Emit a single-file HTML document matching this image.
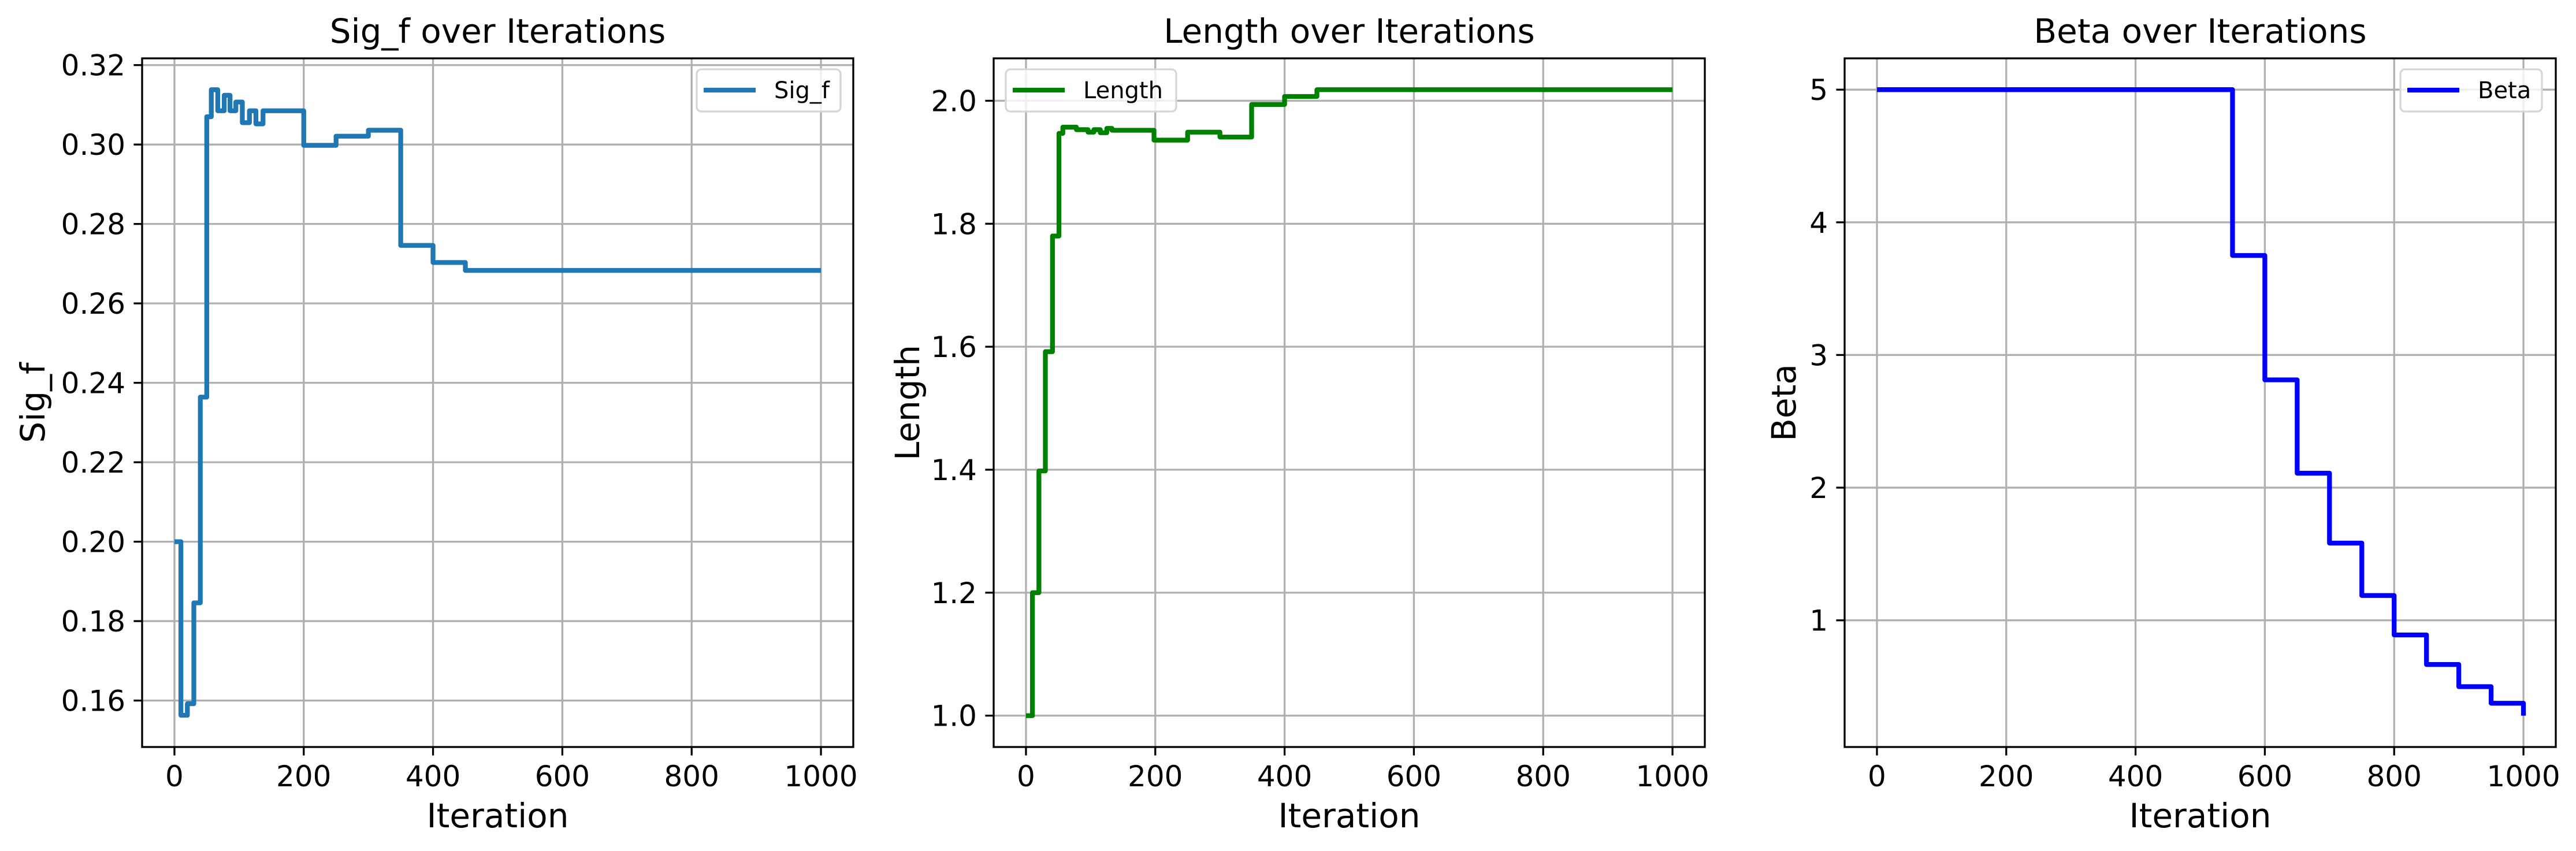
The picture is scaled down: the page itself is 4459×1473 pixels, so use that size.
<!DOCTYPE html>
<html><head><meta charset="utf-8">
<style>
html,body{margin:0;padding:0;background:#fff;}
svg{display:block;font-family:"DejaVu Sans","Liberation Sans",sans-serif;}
</style></head>
<body>
<svg id="fig" width="4459" height="1473" viewBox="0 0 4459 1473" xmlns="http://www.w3.org/2000/svg"></svg>
<script>
// ---- data ----
const sigIters = [0,10,20,30,40,50,57,67,77,86,95,105,116,126,137,200,250,300,350,400,450,1000];
const sigVals  = [0.2000,0.1563,0.1592,0.1846,0.2364,0.3070,0.3138,0.3085,0.3124,0.3085,0.3107,0.3055,0.3085,0.3052,0.3085,0.2998,0.3021,0.3036,0.2746,0.2703,0.2683,0.2683];
const lenIters = [0,10,20,30,41,51,57,78,96,105,115,125,133,198,250,300,349,400,450,1000];
const lenVals  = [1.000,1.200,1.398,1.592,1.780,1.947,1.957,1.953,1.949,1.953,1.948,1.955,1.952,1.936,1.949,1.941,1.994,2.007,2.018,2.018];
const betaIters = [0,550,600,650,700,750,800,850,900,950,1000];
const betaVals  = [5.0,3.75,2.8125,2.109,1.582,1.187,0.890,0.667,0.500,0.375,0.281];
const xTicks = [0,200,400,600,800,1000];
const sigTicks = [0.16,0.18,0.20,0.22,0.24,0.26,0.28,0.30,0.32];
const lenTicks = [1.0,1.2,1.4,1.6,1.8,2.0];
const betaTicks = [1,2,3,4,5];

const NS="http://www.w3.org/2000/svg";
const fig=document.getElementById('fig');
function mk(tag,attrs,parent){const e=document.createElementNS(NS,tag);for(const k in attrs)e.setAttribute(k,attrs[k]);(parent||fig).appendChild(e);return e;}

function panel(cfg){
  const L=cfg.left,R=cfg.left+1231,T=101,B=1293;
  const g=mk('g',{});
  
  
  const xs=v=>L+(v-(-50))/(1100)*(R-L);
  const ys=v=>B-(v-cfg.ymin)/(cfg.ymax-cfg.ymin)*(B-T);
  xTicks.forEach(t=>{const l=mk('line',{x1:xs(t),x2:xs(t),y1:T,y2:B,stroke:'#b0b0b0','stroke-width':3.3},g);
    });
  cfg.yticks.forEach(t=>{const l=mk('line',{x1:L,x2:R,y1:ys(t),y2:ys(t),stroke:'#b0b0b0','stroke-width':3.3},g);
    });
  let d='';
  for(let i=0;i<cfg.xs.length;i++){
    const x=xs(cfg.xs[i]),y=ys(cfg.ys[i]);
    if(i===0)d+='M'+x+','+y;
    else d+=' L'+x+','+ys(cfg.ys[i-1])+' L'+x+','+y;
  }
  const p=mk('path',{d:d,fill:'none',stroke:cfg.color,'stroke-width':8.3,'stroke-linejoin':'round'},g);
  
  
  const sp=mk('rect',{x:L,y:T,width:R-L,height:B-T,fill:'none',stroke:'#000','stroke-width':3.3},g);
  
  xTicks.forEach(t=>{
    mk('line',{x1:xs(t),x2:xs(t),y1:B,y2:B+14.6,stroke:'#000','stroke-width':3.3},g);
    const tx=mk('text',{x:xs(t),y:B+68,'font-size':50,'text-anchor':'middle',fill:'#000'},g);
    tx.textContent=t;
    
  });
  cfg.yticks.forEach(t=>{
    mk('line',{x1:L-14.6,x2:L,y1:ys(t),y2:ys(t),stroke:'#000','stroke-width':3.3},g);
    const tx=mk('text',{x:L-29,y:ys(t)+18,'font-size':50,'text-anchor':'end',fill:'#000'},g);
    tx.textContent=t.toFixed(cfg.dec);
    
  });
  const xl=mk('text',{x:(L+R)/2,y:1432,'font-size':58,'text-anchor':'middle',fill:'#000'},g);
  xl.textContent='Iteration';
  
  const yl=mk('text',{x:0,y:0,'font-size':58,'text-anchor':'middle',fill:'#000',transform:'translate('+(cfg.ylx+41)+','+((T+B)/2)+') rotate(-90)'},g);
  yl.textContent=cfg.ylabel;
  
  const ti=mk('text',{x:(L+R)/2,y:74,'font-size':58,'text-anchor':'middle',fill:'#000'},g);
  ti.textContent=cfg.title;
  
  const lg=mk('g',{},g);
  
  const lx=cfg.legLeft, lw=cfg.legW;
  mk('rect',{x:lx,y:120,width:lw,height:73,rx:8,fill:'#fff','fill-opacity':0.8,stroke:'#d6d6d6','stroke-width':3.3},lg);
  mk('line',{x1:lx+12,x2:lx+102,y1:156,y2:156,stroke:cfg.color,'stroke-width':8.3},lg);
  const lt=mk('text',{x:lx+134,y:170,'font-size':40,fill:'#000'},lg);
  lt.textContent=cfg.ylabel;
  
}
panel({id:'sig-f',left:246,xs:sigIters,ys:sigVals,color:'#1f77b4',ymin:0.1483,ymax:0.3217,yticks:sigTicks,dec:2,ylabel:'Sig_f',title:'Sig_f over Iterations',ylx:36,legLeft:1206,legW:249});
panel({id:'length',left:1720,xs:lenIters,ys:lenVals,color:'#008000',ymin:0.949,ymax:2.069,yticks:lenTicks,dec:1,ylabel:'Length',title:'Length over Iterations',ylx:1550,legLeft:1741,legW:295});
panel({id:'beta',left:3193,xs:betaIters,ys:betaVals,color:'#0000ff',ymin:0.045,ymax:5.236,yticks:betaTicks,dec:0,ylabel:'Beta',title:'Beta over Iterations',ylx:3067,legLeft:4155,legW:245});
</script>
</body></html>
